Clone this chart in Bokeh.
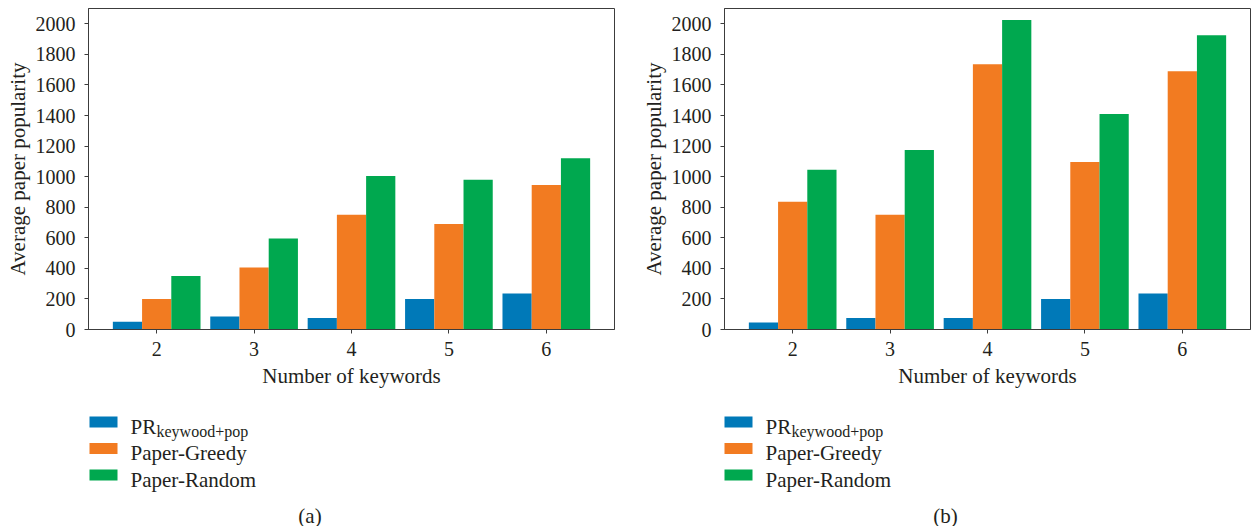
from bokeh.plotting import figure
from bokeh.models import Range1d, FixedTicker
from bokeh.layouts import row, column
from bokeh.core.properties import value
from bokeh.embed import file_html
from bokeh.resources import INLINE

keywords = [2, 3, 4, 5, 6]
series_names = ["PR", "Paper-Greedy", "Paper-Random"]
series_subscripts = ["keywood+pop", "", ""]
series_colors = ["#0079B8", "#F27B21", "#00A84F"]

# panel (a)
a_pr = [50, 85, 75, 200, 235]
a_greedy = [200, 405, 750, 690, 945]
a_random = [350, 595, 1005, 980, 1120]

# panel (b)
b_pr = [45, 75, 75, 200, 235]
b_greedy = [835, 750, 1735, 1095, 1690]
b_random = [1045, 1175, 2025, 1410, 1925]

y_ticks = list(range(0, 2001, 200))
FONT = "Liberation Serif"
TXT = "#231F20"
LINE = "#3C3C3C"


def chart(series, width, border_left, border_right):
    p = figure(width=width, height=400, output_backend="svg", toolbar_location=None,
               x_range=Range1d(1.3, 6.7), y_range=Range1d(0, 2100),
               min_border_left=border_left, min_border_right=border_right,
               min_border_top=8, min_border_bottom=71)
    p.grid.visible = False
    p.outline_line_color = LINE
    p.outline_line_width = 1
    p.background_fill_color = "white"
    p.border_fill_color = "white"

    offsets = [-0.3, 0.0, 0.3]
    for vals, off, col in zip(series, offsets, series_colors):
        xs = [k + off for k in keywords]
        p.vbar(x=xs, top=vals, bottom=0, width=0.3, fill_color=col, line_color=None)

    p.xaxis.ticker = FixedTicker(ticks=keywords)
    p.yaxis.ticker = FixedTicker(ticks=y_ticks)
    p.xaxis.axis_label = "Number of keywords"
    p.yaxis.axis_label = "Average paper popularity"
    for ax in (p.xaxis, p.yaxis):
        ax.axis_line_color = LINE
        ax.major_tick_line_color = LINE
        ax.major_tick_in = 0
        ax.major_tick_out = 4
        ax.minor_tick_line_color = None
        ax.major_label_text_font = FONT
        ax.major_label_text_font_size = "20px"
        ax.major_label_text_color = TXT
        ax.axis_label_text_font = FONT
        ax.axis_label_text_font_size = "21px"
        ax.axis_label_text_font_style = "normal"
        ax.axis_label_text_color = TXT
    p.yaxis.major_label_standoff = 9
    p.yaxis.axis_label_standoff = 3
    p.xaxis.major_label_standoff = 8
    p.xaxis.axis_label_standoff = 5
    return p


def legend_panel(width, swatch_left, caption, caption_x):
    h = 126
    p = figure(width=width, height=h, output_backend="svg", toolbar_location=None,
               x_range=Range1d(0, width), y_range=Range1d(h, 0),
               x_axis_location=None, y_axis_location=None,
               min_border_left=0, min_border_right=0, min_border_top=0, min_border_bottom=0)
    p.grid.visible = False
    p.outline_line_color = None
    p.background_fill_color = "white"
    p.border_fill_color = "white"

    n = len(series_names)
    row_y = [21.5 + 26.5 * i for i in range(n)]
    sw_w, sw_h = 28, 11
    p.rect(x=[swatch_left + sw_w / 2] * n, y=row_y, width=sw_w, height=sw_h,
           fill_color=series_colors, line_color=None)
    text_x = swatch_left + sw_w + 13
    p.text(x=[text_x] * n, y=[yy + 4.5 for yy in row_y], text=series_names,
           text_font=value(FONT), text_font_size=value("21px"), text_color=TXT,
           text_baseline="alphabetic", text_align="left")
    subs = [(s, yy) for s, yy in zip(series_subscripts, row_y) if s]
    p.text(x=[text_x + 26] * len(subs), y=[yy + 9 for _, yy in subs], text=[s for s, _ in subs],
           text_font=value(FONT), text_font_size=value("16px"), text_color=TXT,
           text_baseline="alphabetic", text_align="left")
    p.text(x=[caption_x], y=[115], text=[caption],
           text_font=value(FONT), text_font_size=value("21px"), text_color=TXT,
           text_baseline="middle", text_align="center")
    return p


p1 = chart([a_pr, a_greedy, a_random], 630, 88, 16)
p2 = chart([b_pr, b_greedy, b_random], 621, 94, 1)
l1 = legend_panel(630, 89, "(a)", 309.5)
l2 = legend_panel(621, 94, "(b)", 315)

layout = column(row(p1, p2), row(l1, l2))
open("out.html", "w").write(file_html(layout, INLINE))
